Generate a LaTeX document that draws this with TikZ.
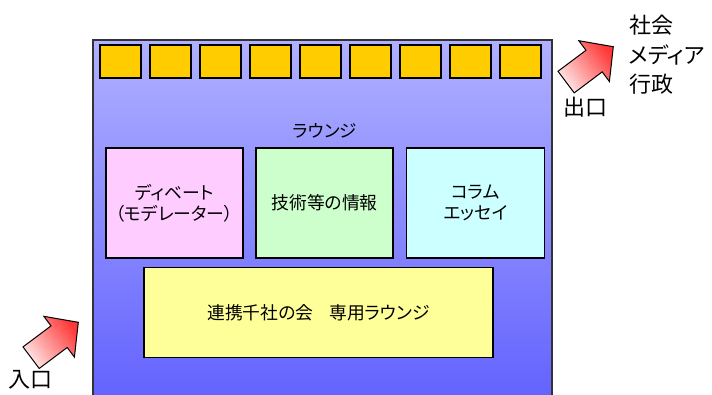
\documentclass[tikz,border=0pt]{standalone}
\usepackage{fontspec}
\newfontfamily\jfont[RawFeature=+palt]{Noto Sans CJK JP}
\usetikzlibrary{calc}
\definecolor{hallTop}{HTML}{B0B0FF}
\definecolor{hallBot}{HTML}{6262FF}
\definecolor{seat}{HTML}{FFCC00}
\definecolor{roomPink}{HTML}{FFCCFF}
\definecolor{roomGreen}{HTML}{CCFFCC}
\definecolor{roomCyan}{HTML}{CCFFFF}
\definecolor{roomYellow}{HTML}{FFFF99}
\tikzset{seatbox/.style={draw=black, line width=1.4pt, fill=seat, minimum width=41pt, minimum height=33pt, inner sep=0pt}}
\tikzset{roombox/.style={draw=black, line width=1.4pt, minimum width=137pt, minimum height=110pt, inner sep=0pt, align=center, font=\jfont\fontsize{17.8}{21}\selectfont}}
\tikzset{biglabel/.style={inner sep=0pt, align=left, font=\jfont\fontsize{22}{29.5}\selectfont}}
\tikzset{gate/.style={draw=black, line width=1pt, line join=miter, bottom color=red!10, top color=red!78, shading angle=-53}}

\begin{document}
\begin{tikzpicture}[x=1pt, y=-1pt]
    \useasboundingbox (0,0) rectangle (712,394);

    % hall
    \draw[draw=black!80, line width=1.5pt, top color=hallTop, bottom color=hallBot] (93,40) rectangle (552,402);

    \foreach \i in {0,...,8}
        \node[seatbox] (seat\i) at (120.5+50*\i, 61.5) {};

    \node[font=\jfont\fontsize{17.5}{21}\selectfont] (lounge) at (325,131) {ラウンジ};

    \node[roombox, fill=roomPink] (debate) at (174.5,203) {ディベート\\（モデレーター）};
    \node[roombox, fill=roomGreen] (tech) at (324.5,203) {技術等の情報};
    \node[roombox, fill=roomCyan, minimum width=138pt] (column) at (475.5,203) {コラム\\エッセイ};
    \node[roombox, fill=roomYellow, minimum width=349pt, minimum height=90pt] (members) at (318.5,312.5) {連携千社の会\hspace{0.9em}専用ラウンジ};

    % gates
    \foreach \tx/\ty in {78.3/322.3, 613.3/46.7}
        \draw[gate, shift={(\tx,\ty)}] (0,0) -- (-34.5,-6.0) -- (-27.3,3.6) -- (-55.3,24.6)
            -- (-39.1,46.2) -- (-11.1,25.2) -- (-3.9,34.8) -- cycle;

    \node[biglabel] (entrance) at (31,380) {入口};
    \node[biglabel] (exit) at (585,107) {出口};
    \node[biglabel, anchor=west] (society) at (629,55) {社会\\メディア\\行政};
\end{tikzpicture}
\end{document}
